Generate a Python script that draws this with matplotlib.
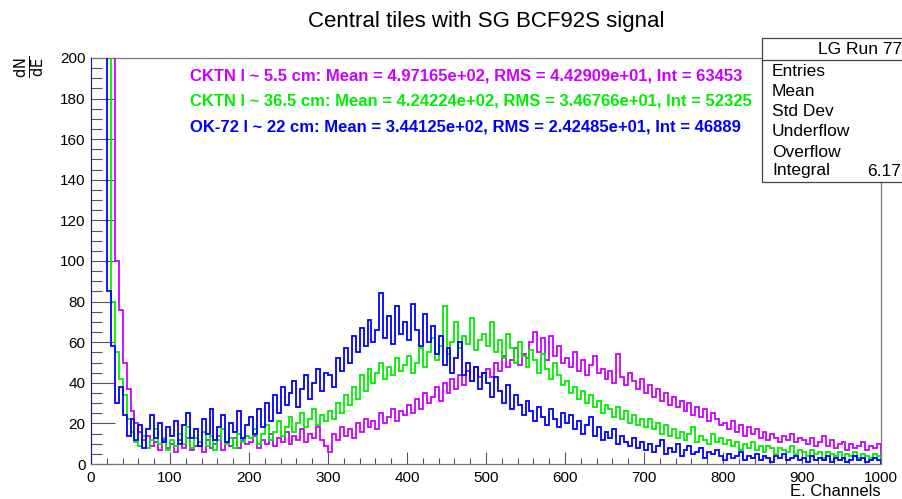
import numpy as np
import matplotlib
matplotlib.use("Agg")
import matplotlib.pyplot as plt
from matplotlib.ticker import MultipleLocator
from matplotlib.patches import Rectangle
from matplotlib.lines import Line2D

plt.rcParams['font.family'] = ['Liberation Sans', 'DejaVu Sans']

# ── Data (5-channel bins) ──────────────────────────────────────────────────
bin_edges = np.arange(0, 1005, 5)

blue_ok72 = [
    500, 500, 500, 260, 85, 58, 30, 38, 24, 14, 22, 12, 19, 8, 17, 24, 13, 20, 11, 18,
    14, 21, 10, 19, 25, 13, 17, 9, 22, 15, 27, 12, 18, 24, 11, 20, 16, 26, 13, 19,
    23, 15, 27, 18, 30, 21, 34, 25, 38, 29, 35, 41, 28, 37, 44, 32, 40, 47, 36, 45,
    44, 38, 52, 46, 57, 50, 63, 55, 67, 58, 71, 60, 66, 84, 62, 73, 59, 78, 64, 70,
    61, 79, 66, 58, 74, 60, 68, 54, 63, 49, 57, 45, 52, 60, 44, 50, 41, 48, 37, 45,
    40, 33, 43, 36, 30, 39, 27, 34, 29, 24, 31, 26, 21, 28, 23, 19, 27, 22, 18, 25,
    20, 24, 17, 21, 15, 19, 23, 14, 18, 12, 16, 13, 17, 10, 14, 11, 9, 13, 8, 11,
    7, 10, 6, 9, 12, 5, 8, 6, 10, 4, 7, 9, 5, 6, 8, 3, 6, 5, 7, 4,
    2, 5, 3, 4, 6, 2, 4, 3, 5, 2, 4, 3, 1, 4, 3, 5, 2, 3, 4, 2,
    3, 1, 4, 2, 3, 2, 4, 1, 3, 2, 3, 1, 2, 4, 2, 3, 1, 2, 3, 2,
]

green_cktn365 = [
    500, 500, 500, 500, 230, 80, 55, 42, 34, 22, 16, 11, 9, 14, 8, 12, 17, 10, 13, 7,
    12, 9, 15, 10, 18, 8, 13, 11, 16, 9, 14, 7, 12, 17, 10, 13, 8, 15, 11, 14,
    13, 17, 10, 15, 19, 12, 16, 21, 14, 18, 23, 16, 20, 25, 18, 22, 27, 19, 24, 21,
    26, 22, 30, 25, 34, 29, 38, 32, 44, 36, 47, 40, 45, 50, 42, 48, 44, 52, 46, 49,
    53, 45, 50, 57, 48, 55, 62, 51, 58, 78, 54, 60, 70, 57, 63, 59, 72, 56, 61, 64,
    58, 70, 55, 61, 52, 64, 57, 50, 60, 53, 48, 56, 51, 45, 54, 47, 42, 50, 44, 39,
    41, 35, 38, 32, 36, 30, 34, 28, 31, 25, 29, 27, 23, 28, 22, 26, 20, 24, 19, 22,
    18, 22, 17, 20, 15, 19, 14, 17, 13, 16, 12, 15, 18, 11, 14, 12, 10, 15, 11, 13,
    10, 12, 9, 11, 7, 10, 8, 11, 7, 9, 6, 9, 8, 5, 8, 7, 6, 9, 5, 7,
    6, 4, 7, 5, 6, 3, 6, 5, 4, 6, 3, 5, 4, 6, 3, 5, 4, 3, 5, 4,
]

magenta_cktn55 = [
    500, 500, 500, 500, 500, 250, 100, 76, 50, 37, 26, 20, 16, 12, 14, 9, 11, 7, 12, 8,
    10, 6, 12, 8, 13, 7, 9, 11, 6, 12, 8, 10, 14, 7, 11, 9, 13, 8, 12, 10,
    11, 14, 8, 12, 10, 15, 9, 13, 11, 16, 10, 14, 12, 17, 11, 15, 13, 18, 12, 9,
    6, 15, 12, 18, 14, 17, 13, 20, 16, 22, 18, 21, 17, 25, 20, 23, 27, 21, 26, 24,
    29, 25, 32, 27, 35, 30, 33, 38, 31, 40, 35, 42, 37, 44, 39, 46, 41, 48, 43, 45,
    47, 43, 50, 46, 53, 48, 51, 57, 49, 54, 52, 60, 65, 55, 62, 51, 63, 53, 58, 50,
    52, 48, 55, 46, 51, 44, 49, 53, 45, 47, 42, 46, 40, 54, 43, 39, 45, 41, 37, 42,
    35, 39, 33, 37, 31, 35, 29, 33, 28, 31, 26, 30, 24, 28, 23, 27, 21, 25, 22, 19,
    20, 17, 21, 16, 19, 14, 18, 15, 17, 13, 16, 12, 15, 13, 11, 14, 12, 15, 11, 13,
    12, 10, 13, 9, 11, 14, 9, 12, 8, 10, 11, 7, 10, 8, 9, 11, 7, 9, 8, 10,
]

legend_lines = [
    "CKTN l ~ 5.5 cm: Mean = 4.97165e+02, RMS = 4.42909e+01, Int = 63453",
    "CKTN l ~ 36.5 cm: Mean = 4.24224e+02, RMS = 3.46766e+01, Int = 52325",
    "OK-72 l ~ 22 cm: Mean = 3.44125e+02, RMS = 2.42485e+01, Int = 46889",
]
stat_names = ["Entries", "Mean", "Std Dev", "Underflow", "Overflow", "Integral"]

C_MAG, C_GRN, C_BLU = '#cc00ff', '#00ee00', '#0000ff'

# ── Figure ─────────────────────────────────────────────────────────────────
W, H = 902, 499
fig = plt.figure(figsize=(W / 100, H / 100), dpi=100)
ax = fig.add_axes([91 / W, 35 / H, 790 / W, 406 / H])

ax.stairs(magenta_cktn55, bin_edges, color=C_MAG, lw=1.3, zorder=3)
ax.stairs(green_cktn365, bin_edges, color=C_GRN, lw=1.3, zorder=3)
ax.stairs(blue_ok72, bin_edges, color=C_BLU, lw=1.3, zorder=3)

ax.set_xlim(0, 1000)
ax.set_ylim(0, 200)
ax.xaxis.set_major_locator(MultipleLocator(100))
ax.xaxis.set_minor_locator(MultipleLocator(20))
ax.yaxis.set_major_locator(MultipleLocator(20))
ax.yaxis.set_minor_locator(MultipleLocator(5))
ax.tick_params(axis='x', which='major', direction='in', length=8.5, width=0.8,
               color='#555555', labelsize=11, pad=5)
ax.tick_params(axis='x', which='minor', direction='in', length=4.5, width=0.8, color='#555555')
ax.tick_params(axis='y', which='major', direction='in', length=17, width=0.8,
               color='#555555', labelsize=11, pad=4)
ax.tick_params(axis='y', which='minor', direction='in', length=8, width=0.8, color='#555555')
for s in ax.spines.values():
    s.set_color('#777777')
    s.set_linewidth(0.9)

fig.text(486 / W, 1 - 21 / H, "Central tiles with SG BCF92S signal",
         ha='center', va='center', fontsize=16)
fig.text(881 / W, 1 - 491 / H, "E. Channels", ha='right', va='center', fontsize=12)
fig.text(30 / W, 1 - 67 / H, r'$\frac{\mathrm{dN}}{\mathrm{dE}}$', rotation=90,
         ha='center', va='center', fontsize=15)

for txt, col, yp in zip(legend_lines, [C_MAG, C_GRN, C_BLU], [76, 101, 127]):
    fig.text(190 / W, 1 - yp / H, txt, color=col, fontsize=12, fontweight='bold',
             ha='left', va='center')

# stats box (cut by the right edge of the canvas)
fig.patches.append(Rectangle((762 / W, 1 - 182 / H), 150 / W, 144 / H,
                             transform=fig.transFigure, facecolor='white',
                             edgecolor='#444444', lw=0.9, zorder=5))
fig.lines.append(Line2D([762 / W, 1], [1 - 60 / H, 1 - 60 / H],
                        transform=fig.transFigure, color='#444444', lw=0.9, zorder=6))
fig.text(818 / W, 1 - 50 / H, "LG Run 77", fontsize=12.5, ha='left', va='center', zorder=7)
for name, yp in zip(stat_names, [71, 91, 112, 132, 152, 171]):
    fig.text(772 / W, 1 - yp / H, name, fontsize=12.5, ha='left', va='center', zorder=7)
fig.text(867 / W, 1 - 172 / H, "6.17", fontsize=12.5, ha='left', va='center', zorder=7)

fig.savefig('out.png', dpi=100)
